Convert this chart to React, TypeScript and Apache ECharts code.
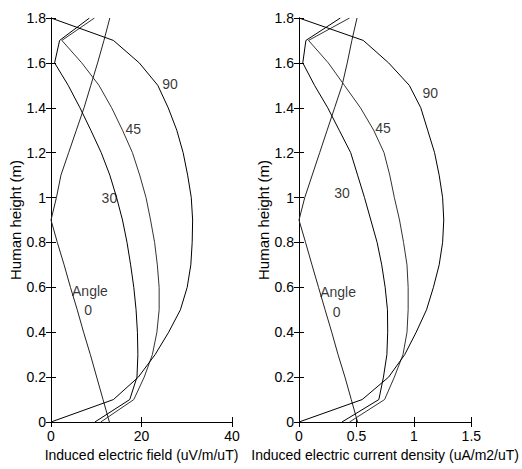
import React, { useEffect, useRef } from "react";
import * as echarts from "echarts";

// Heights along the human body (m)
const HEIGHTS = [0, 0.1, 0.2, 0.3, 0.4, 0.5, 0.6, 0.7, 0.8, 0.9, 1.0, 1.1, 1.2, 1.3, 1.4, 1.5, 1.6, 1.7, 1.8];

// Induced electric field (uV/m/uT) by angle
const E_ANGLE0 = [12.9, 11.5, 10.1, 8.7, 7.2, 5.8, 4.3, 2.9, 1.4, 0, 1.2, 2.2, 3.9, 5.6, 7.3, 8.8, 10.3, 11.7, 13.0];
const E_ANGLE30 = [9.7, 17.4, 19.0, 19.2, 19.1, 18.8, 18.3, 17.6, 16.8, 15.8, 14.5, 13.0, 11.1, 8.8, 6.4, 3.8, 0.8, 1.9, 8.5];
const E_ANGLE45 = [11.0, 18.3, 20.6, 22.4, 23.4, 23.9, 23.9, 23.5, 22.9, 22.0, 21.0, 19.6, 18.0, 15.8, 13.4, 10.6, 6.8, 2.4, 9.6];
const E_ANGLE90 = [0, 13.8, 19.3, 23.0, 26.0, 28.6, 30.1, 30.9, 31.2, 31.3, 31.0, 30.2, 29.2, 27.8, 25.9, 23.6, 19.5, 13.8, 0];

// Induced electric current density (uA/m2/uT) by angle
const J_ANGLE0 = [0.51, 0.455, 0.4, 0.34, 0.285, 0.227, 0.17, 0.113, 0.057, 0, 0.05, 0.115, 0.18, 0.245, 0.31, 0.375, 0.42, 0.46, 0.505];
const J_ANGLE30 = [0.374, 0.695, 0.735, 0.765, 0.772, 0.77, 0.75, 0.72, 0.68, 0.625, 0.57, 0.51, 0.45, 0.35, 0.25, 0.135, 0.033, 0.06, 0.36];
const J_ANGLE45 = [0.44, 0.745, 0.83, 0.905, 0.94, 0.95, 0.95, 0.94, 0.91, 0.875, 0.83, 0.79, 0.74, 0.65, 0.535, 0.395, 0.255, 0.083, 0.44];
const J_ANGLE90 = [0, 0.55, 0.78, 0.92, 1.02, 1.11, 1.17, 1.22, 1.25, 1.26, 1.25, 1.22, 1.18, 1.12, 1.06, 0.96, 0.78, 0.56, 0];

// Curve annotations: text, x value, height
const E_LABEL_TEXT = ["90", "45", "30", "Angle", "0"];
const E_LABEL_X = [26.3, 18.2, 12.9, 8.6, 8.2];
const E_LABEL_Y = [1.506, 1.306, 1.0, 0.584, 0.5];
const J_LABEL_TEXT = ["90", "45", "30", "Angle", "0"];
const J_LABEL_X = [1.142, 0.732, 0.374, 0.34, 0.327];
const J_LABEL_Y = [1.464, 1.312, 1.019, 0.58, 0.492];

const E_TICKS = { min: 0, max: 40, interval: 20 };
const J_TICKS = { min: 0, max: 1.5, interval: 0.5 };
const H_TICKS = { min: 0, max: 1.8, interval: 0.2 };

const FONT = "Liberation Sans, Arial, sans-serif";

function pairs(xs: number[]) {
  return xs.map((v, i) => [v, HEIGHTS[i]]);
}

export default function App() {
  const ref = useRef<HTMLDivElement>(null);
  useEffect(() => {
    if (!ref.current) return;
    const chart = echarts.init(ref.current, undefined, { renderer: "svg" });

    const axisLineStyle = { show: true, lineStyle: { color: "#000", width: 1 } };
    const tickInside = { show: true, inside: true, length: 5, lineStyle: { color: "#000" } };
    const labelStyle = { color: "#000", fontSize: 14, fontFamily: FONT };

    const xAxis: any[] = [];
    const yAxis: any[] = [];
    const panels = [
      { ticks: E_TICKS, name: "Induced electric field (uV/m/uT)" },
      { ticks: J_TICKS, name: "Induced electric current density (uA/m2/uT)" },
    ];
    panels.forEach((p, g) => {
      xAxis.push({
        type: "value", gridIndex: g, position: "bottom", ...p.ticks,
        axisLine: axisLineStyle, axisTick: tickInside, splitLine: { show: false },
        axisLabel: { ...labelStyle, margin: 7 },
        name: p.name, nameLocation: "middle", nameGap: 25,
        nameTextStyle: { ...labelStyle },
      });
      xAxis.push({
        type: "value", gridIndex: g, position: "top", ...p.ticks,
        axisLine: axisLineStyle, axisTick: tickInside, splitLine: { show: false },
        axisLabel: { show: false },
      });
      yAxis.push({
        type: "value", gridIndex: g, position: "left", ...H_TICKS,
        axisLine: axisLineStyle, axisTick: tickInside, splitLine: { show: false },
        axisLabel: { ...labelStyle, margin: 5 },
        name: "Human height (m)", nameLocation: "middle", nameGap: 27, nameRotate: 90,
        nameTextStyle: { ...labelStyle, fontSize: 15 },
      });
      yAxis.push({
        type: "value", gridIndex: g, position: "right", ...H_TICKS,
        axisLine: axisLineStyle, axisTick: tickInside, splitLine: { show: false },
        axisLabel: { show: false },
      });
    });

    const line = (data: number[], axis: number, color = "#000") => ({
      type: "line",
      xAxisIndex: axis * 2,
      yAxisIndex: axis * 2,
      data: pairs(data),
      showSymbol: false,
      symbol: "none",
      lineStyle: { color, width: 1 },
      silent: true,
      z: 3,
    });

    const labels = (texts: string[], xs: number[], ys: number[], axis: number) => ({
      type: "scatter",
      xAxisIndex: axis * 2,
      yAxisIndex: axis * 2,
      symbolSize: 0,
      itemStyle: { color: "#000" },
      data: texts.map((t, i) => ({ value: [xs[i], ys[i]], name: t })),
      label: {
        show: true, position: "inside", formatter: (p: any) => p.name,
        color: "#000", fontSize: 14, fontFamily: FONT,
        textBorderWidth: 0, textBorderColor: "transparent",
      },
      silent: true,
      z: 4,
    });

    chart.setOption({
      animation: false,
      backgroundColor: "#fff",
      grid: [
        { left: 51, top: 18, width: 181, height: 404 },
        { left: 299, top: 18, width: 180, height: 404 },
      ],
      xAxis,
      yAxis,
      series: [
        line(E_ANGLE0, 0, "#222"),
        line(E_ANGLE30, 0),
        line(E_ANGLE45, 0, "#333"),
        line(E_ANGLE90, 0),
        labels(E_LABEL_TEXT, E_LABEL_X, E_LABEL_Y, 0),
        line(J_ANGLE0, 1, "#222"),
        line(J_ANGLE30, 1),
        line(J_ANGLE45, 1, "#333"),
        line(J_ANGLE90, 1),
        labels(J_LABEL_TEXT, J_LABEL_X, J_LABEL_Y, 1),
      ],
    });
    return () => chart.dispose();
  }, []);

  return (
    <div
      ref={ref}
      style={{ position: "absolute", left: 0, top: 0, width: 522, height: 469, background: "#fff" }}
    />
  );
}
